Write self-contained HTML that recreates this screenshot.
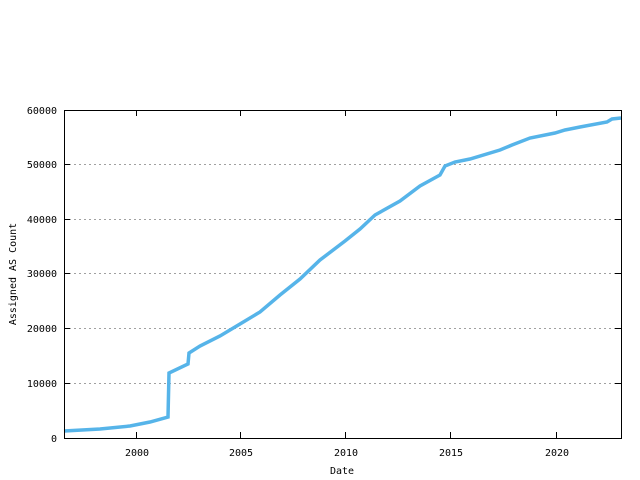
<!DOCTYPE html>
<html><head><style>body{margin:0;background:#fff}svg{display:block}text{font-family:"DejaVu Sans Mono","Liberation Mono",monospace;font-size:10px;fill:#000}</style></head>
<body>
<svg width="640" height="480" viewBox="0 0 640 480" xmlns="http://www.w3.org/2000/svg">
<g stroke="#a0a0a0" stroke-dasharray="2,3" stroke-width="1">
<line x1="64" y1="383.5" x2="621" y2="383.5"/>
<line x1="64" y1="328.5" x2="621" y2="328.5"/>
<line x1="64" y1="273.5" x2="621" y2="273.5"/>
<line x1="64" y1="219.5" x2="621" y2="219.5"/>
<line x1="64" y1="164.5" x2="621" y2="164.5"/>
</g>
<polyline fill="none" stroke="#56b4e9" stroke-width="3.5" points="64,431 100,429 130,426 150,422 168,417 169,373 188,364 189,353 200,346 220,336 240,324 260,312 280,295 300,279 320,260 345,241 360,229 375,215 400,201 420,186 440,175 445,166 455,162 470,159 500,150 512,145 530,138 555,133 565,130 580,127 607,122 612,119 621,118"/>
<g stroke="#000" stroke-width="1" fill="none">
<rect x="64.5" y="110.5" width="557" height="328"/>
<path d="M64 383.5h6M64 328.5h6M64 273.5h6M64 219.5h6M64 164.5h6M621 383.5h-6M621 328.5h-6M621 273.5h-6M621 219.5h-6M621 164.5h-6"/>
<path d="M136.5 438v-6M240.5 438v-6M345.5 438v-6M450.5 438v-6M556.5 438v-6M136.5 110v6M240.5 110v6M345.5 110v6M450.5 110v6M556.5 110v6"/>
</g>
<g text-anchor="end">
<text x="57" y="442">0</text><text x="57" y="387">10000</text><text x="57" y="332">20000</text><text x="57" y="277">30000</text><text x="57" y="223">40000</text><text x="57" y="168">50000</text><text x="57" y="114">60000</text>
</g>
<g text-anchor="middle">
<text x="137" y="456">2000</text><text x="241" y="456">2005</text><text x="346" y="456">2010</text><text x="451" y="456">2015</text><text x="557" y="456">2020</text>
<text x="342" y="474">Date</text>
<text transform="translate(16,274) rotate(-90)">Assigned AS Count</text>
</g>
</svg>
</body></html>
